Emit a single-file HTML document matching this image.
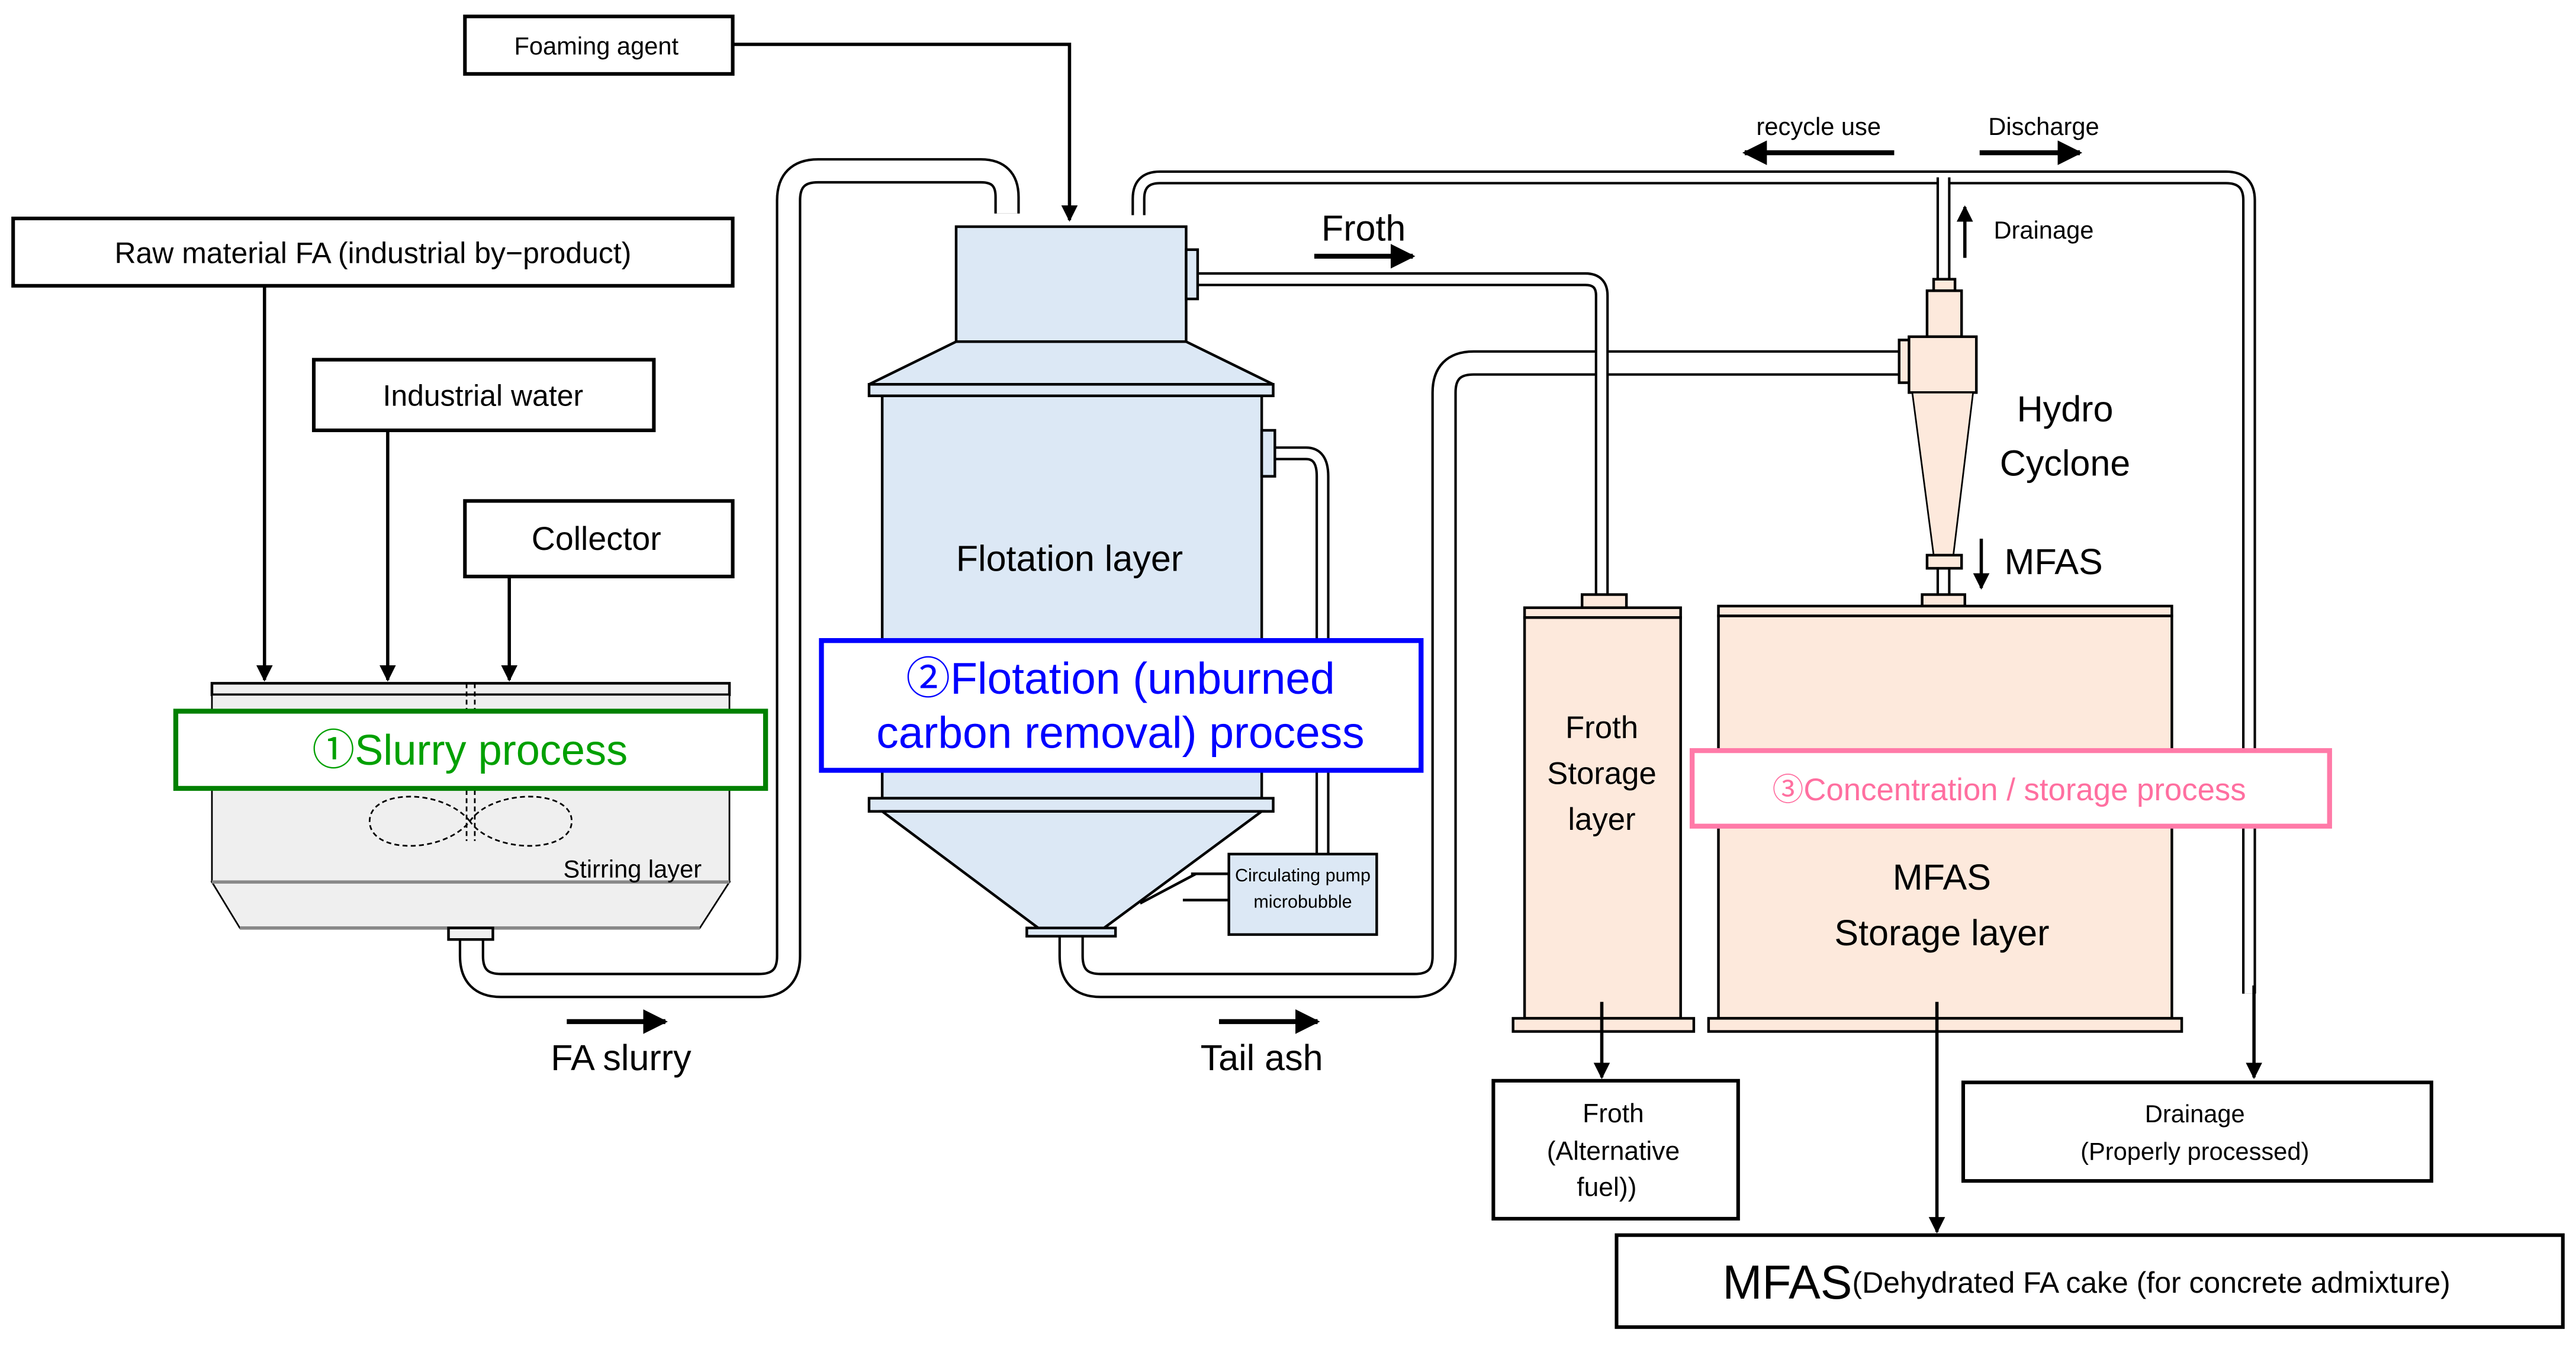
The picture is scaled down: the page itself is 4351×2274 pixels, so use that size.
<!DOCTYPE html>
<html><head><meta charset="utf-8"><style>html,body{margin:0;padding:0;background:#fff}svg{display:block}text{font-family:"Liberation Sans","Noto Sans CJK JP",sans-serif;text-anchor:middle;dominant-baseline:central}</style></head><body>
<svg width="4351" height="2274" viewBox="0 0 1568 819.5" preserveAspectRatio="none" xmlns="http://www.w3.org/2000/svg">
<defs><marker id="a" viewBox="0 0 10 10" refX="9" refY="5" markerWidth="5" markerHeight="5" orient="auto"><path d="M0,0L10,5L0,10z" fill="#000"/></marker></defs>
<g fill="none" stroke="#000" stroke-width="1.6">
<!-- pipes -->
<path d="M287,572V582Q287,600 305,600H462Q480,600 480,582V122Q480,104 498,104H597Q613,104 613,120V130" stroke-width="15.5"/>
<path d="M287,572V582Q287,600 305,600H462Q480,600 480,582V122Q480,104 498,104H597Q613,104 613,120V130" stroke="#fff" stroke-width="12.5"/>
<path d="M652,570V582Q652,600 670,600H861Q879,600 879,582V239Q879,221 897,221H1158" stroke-width="15.5"/>
<path d="M652,570V582Q652,600 670,600H861Q879,600 879,582V239Q879,221 897,221H1158" stroke="#fff" stroke-width="12.5"/>
<path d="M693,131V121Q693,108 706,108H1355Q1369,108 1369,122V605" stroke-width="8.5"/>
<path d="M693,131V121Q693,108 706,108H1355Q1369,108 1369,122V605" stroke="#fff" stroke-width="5.5"/>
<path d="M1183,172V108" stroke-width="8.5"/><path d="M1183,172V106" stroke="#fff" stroke-width="5.5"/>
<path d="M729,170H965Q975,170 975,180V364" stroke-width="8.5"/>
<path d="M729,170H965Q975,170 975,180V364" stroke="#fff" stroke-width="5.5"/>
<path d="M776,276H795Q805,276 805,290V522" stroke-width="8.5"/>
<path d="M776,276H795Q805,276 805,290V522" stroke="#fff" stroke-width="5.5"/>
<path d="M1183,346V364" stroke-width="8.5"/><path d="M1183,345V364" stroke="#fff" stroke-width="5.5"/>
</g>
<g stroke="#000" stroke-width="1.6">
<!-- boxes -->
<rect x="283" y="10" width="163" height="35" fill="#fff" stroke-width="2.2"/>
<rect x="8" y="133" width="438" height="41" fill="#fff" stroke-width="2.2"/>
<rect x="191" y="219" width="207" height="43" fill="#fff" stroke-width="2.2"/>
<rect x="283" y="305" width="163" height="46" fill="#fff" stroke-width="2.2"/>
<rect x="909" y="658" width="149" height="84" fill="#fff" stroke-width="2.2"/>
<rect x="1195" y="659" width="285" height="60" fill="#fff" stroke-width="2.2"/>
<rect x="984" y="752" width="576" height="56" fill="#fff" stroke-width="2.2"/>
<!-- slurry tank -->
<rect x="129" y="416" width="315" height="7" fill="#efefef"/>
<rect x="129" y="423" width="315" height="114" fill="#efefef" stroke-width="1"/>
<path d="M129,537H444L426,565H146Z" fill="#efefef" stroke-width="1"/>
<line x1="129" y1="537" x2="444" y2="537" stroke="#888" stroke-width="2"/>
<line x1="146" y1="565" x2="426" y2="565" stroke="#888" stroke-width="2"/>
<rect x="273" y="565" width="27" height="7" fill="#efefef"/>
<!-- flotation -->
<rect x="582" y="138" width="140" height="70" fill="#dce8f5"/>
<rect x="722" y="152" width="7" height="30" fill="#dce8f5"/>
<path d="M582,208H722L775,234H529Z" fill="#dce8f5"/>
<rect x="529" y="234" width="246" height="7" fill="#dce8f5"/>
<rect x="537" y="241" width="231" height="245" fill="#dce8f5"/>
<rect x="768" y="262" width="8" height="28" fill="#dce8f5"/>
<rect x="529" y="486" width="246" height="8" fill="#dce8f5"/>
<path d="M537,494H768L672,565H632Z" fill="#dce8f5"/>
<rect x="625" y="565" width="54" height="5" fill="#dce8f5"/>
<rect x="748" y="520" width="90" height="49" fill="#dce8f5"/>
<line x1="748" y1="532" x2="725" y2="532"/><line x1="748" y1="548" x2="720" y2="548"/>
<line x1="728" y1="532" x2="694" y2="550"/>
<!-- froth storage -->
<rect x="963" y="362" width="27" height="8" fill="#fde9dc"/>
<rect x="928" y="370" width="95" height="6" fill="#fde9dc"/>
<rect x="928" y="376" width="95" height="244" fill="#fde9dc"/>
<rect x="921" y="620" width="110" height="8" fill="#fde9dc"/>
<!-- MFAS storage -->
<rect x="1170" y="362" width="26" height="7" fill="#fde9dc"/>
<rect x="1046" y="369" width="276" height="6" fill="#fde9dc"/>
<rect x="1046" y="375" width="276" height="245" fill="#fde9dc"/>
<rect x="1040" y="620" width="288" height="8" fill="#fde9dc"/>
<!-- cyclone -->
<rect x="1177" y="170" width="13" height="7" fill="#fde9dc"/>
<rect x="1173" y="177" width="21" height="28" fill="#fde9dc"/>
<rect x="1156" y="207" width="7" height="26" fill="#fde9dc"/>
<rect x="1162" y="205" width="41" height="34" fill="#fde9dc"/>
<path d="M1164,239H1201L1189,338H1177Z" fill="#fde9dc" stroke-width="1"/>
<rect x="1173" y="338" width="21" height="8" fill="#fde9dc"/>
</g>
<g fill="none" stroke="#000" stroke-width="1" stroke-dasharray="3,2">
<path d="M284,416V512M289,416V512"/>
<path d="M286,500C270,480 225,480 225,500C225,520 270,520 286,500C300,480 348,480 348,500C348,520 300,520 286,500"/>
</g>
<!-- arrows -->
<g stroke="#000" stroke-width="2" fill="none" marker-end="url(#a)">
<path d="M446,27H651V134"/>
<path d="M161,174V414"/><path d="M236,262V414"/><path d="M310,351V414"/>
<path d="M975,610V656"/><path d="M1179,610V750"/><path d="M1372,600V656"/>
<path d="M1196,157V126"/><path d="M1206,328V358"/>
</g>
<g stroke="#000" stroke-width="3" fill="none" marker-end="url(#a)">
<path d="M345,622H405"/><path d="M742,622H802"/><path d="M800,156H860"/>
<path d="M1153,93H1062"/><path d="M1205,93H1266"/>
</g>
<!-- process boxes -->
<rect x="107" y="433" width="359" height="47" fill="#fff" stroke="#008000" stroke-width="3"/>
<rect x="500" y="390" width="365" height="79" fill="#fff" stroke="#0000ff" stroke-width="3"/>
<rect x="1030" y="457" width="388" height="46" fill="#fff" stroke="#ff7aa8" stroke-width="3"/>
<!-- text -->
<g fill="#000">
<text x="363" y="28" font-size="15">Foaming agent</text>
<text x="227" y="154" font-size="18">Raw material FA (industrial by−product)</text>
<text x="294" y="241" font-size="18">Industrial water</text>
<text x="363" y="328" font-size="20">Collector</text>
<text x="385" y="529" font-size="15">Stirring layer</text>
<text x="378" y="644" font-size="22">FA slurry</text>
<text x="651" y="340" font-size="22">Flotation layer</text>
<text x="768" y="644" font-size="22">Tail ash</text>
<text x="830" y="139" font-size="22">Froth</text>
<text x="793" y="533" font-size="11">Circulating pump</text>
<text x="793" y="549" font-size="11">microbubble</text>
<text x="975" y="443" font-size="19">Froth</text>
<text x="975" y="471" font-size="19">Storage</text>
<text x="975" y="499" font-size="19">layer</text>
<text x="1182" y="534" font-size="22">MFAS</text>
<text x="1182" y="568" font-size="22">Storage layer</text>
<text x="1107" y="77" font-size="15">recycle use</text>
<text x="1244" y="77" font-size="15">Discharge</text>
<text x="1244" y="140" font-size="15">Drainage</text>
<text x="1257" y="249" font-size="22">Hydro</text>
<text x="1257" y="282" font-size="22">Cyclone</text>
<text x="1250" y="342" font-size="22">MFAS</text>
<text x="982" y="678" font-size="16">Froth</text>
<text x="982" y="701" font-size="16">(Alternative</text>
<text x="978" y="723" font-size="16">fuel))</text>
<text x="1336" y="678" font-size="15">Drainage</text>
<text x="1336" y="701" font-size="15">(Properly processed)</text>
<text x="1270" y="781" font-size="18"><tspan font-size="29">MFAS</tspan>(Dehydrated FA cake (for concrete admixture)</text>
</g>
<text x="286" y="457" font-size="26" fill="#00a000">①Slurry process</text>
<text x="682" y="413" font-size="27" fill="#0000ff">②Flotation (unburned</text>
<text x="682" y="446" font-size="27" fill="#0000ff">carbon removal) process</text>
<text x="1223" y="481" font-size="19" fill="#ff6fa0">③Concentration / storage process</text>
</svg>
</body></html>
